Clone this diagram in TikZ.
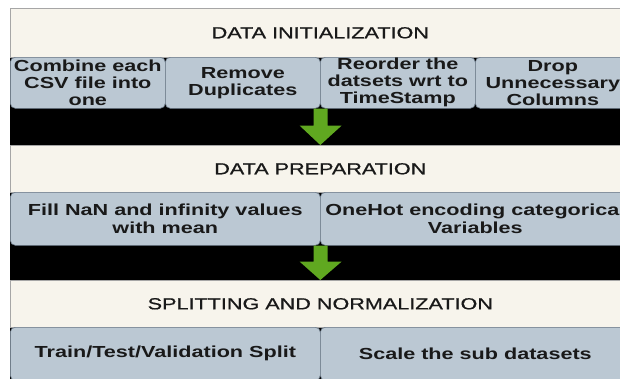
\documentclass[tikz,border=0pt]{standalone}
\usepackage{fontspec}
\setmainfont{Liberation Sans}[FakeStretch=1.35]
\newfontfamily\hdrfont{Liberation Sans}[FakeStretch=1.35, FakeBold=0.8]
\usetikzlibrary{calc}
\definecolor{cream}{RGB}{247,244,236}
\definecolor{boxblue}{RGB}{187,200,211}
\definecolor{boxedge}{RGB}{110,125,140}
\definecolor{garrow}{RGB}{96,168,32}
\definecolor{txt}{RGB}{25,25,25}
\tikzset{
  band/.style={rectangle, fill=cream, draw=gray!70, line width=0.6pt,
    minimum width=620pt, minimum height=49pt, anchor=north west, inner sep=0pt,
    text=txt, font=\hdrfont\fontsize{16}{17.5}\selectfont},
  bx/.style={rectangle, rounded corners=5pt, fill=boxblue, draw=boxedge,
    line width=0.6pt, minimum height=51pt, anchor=north west, inner sep=0pt,
    align=center, text=txt, font=\bfseries\fontsize{16}{17}\selectfont},
  quarter/.style={bx, minimum width=155pt},
  half/.style={bx, minimum width=310pt},
  blockarrow/.style={fill=garrow}
}
\begin{document}
\begin{tikzpicture}[x=1pt,y=-1pt]
\useasboundingbox (0,0) rectangle (620,378);
\clip (0,0) rectangle (620,378);
\fill[white] (0,0) rectangle (620,378);
\fill[black] (10,8) rectangle (640,395);
% bands
\node[band] (h1) at (10,8) {DATA INITIALIZATION};
\node[band, minimum height=47pt] (h2) at (10,145) {DATA PREPARATION};
\node[band, minimum height=47pt] (h3) at (10,280) {SPLITTING AND NORMALIZATION};
% row 1
\node[quarter] (r1a) at (10,57) {Combine each\\CSV file into\\one};
\node[quarter] (r1b) at (165,57) {Remove\\Duplicates};
\node[quarter] (r1c) at (320,57) {Reorder the\\datsets wrt to\\TimeStamp};
\node[quarter] (r1d) at (475,57) {Drop\\Unnecessary\\Columns};
% row 2
\node[half, minimum height=53pt, font=\bfseries\fontsize{16}{18}\selectfont] (r2a) at (10,192) {Fill NaN and infinity values\\with mean};
\node[half, minimum height=53pt, font=\bfseries\fontsize{16}{18}\selectfont] (r2b) at (320,192) {OneHot encoding categorical\\Variables};
% row 3
\node[half, minimum height=53pt] (r3a) at (10,327) {Train/Test/Validation Split};
\node[half, minimum height=53pt] (r3b) at (320,327) {Scale the sub datasets};
% arrows
\coordinate (a1s) at (r1b.south east);
\coordinate (a1e) at (h2.north);
\fill[blockarrow] ($(a1s)+(-7,0)$) -- ($(a1s)+(7,0)$) -- ($(a1s)+(7,17)$)
  -- ($(a1s)+(21,17)$) -- (a1e) -- ($(a1s)+(-21,17)$) -- ($(a1s)+(-7,17)$) -- cycle;
\coordinate (a2s) at (r2a.south east);
\coordinate (a2e) at (h3.north);
\fill[blockarrow] ($(a2s)+(-7,0)$) -- ($(a2s)+(7,0)$) -- ($(a2s)+(7,16)$)
  -- ($(a2s)+(21,16)$) -- (a2e) -- ($(a2s)+(-21,16)$) -- ($(a2s)+(-7,16)$) -- cycle;
\end{tikzpicture}
\end{document}
